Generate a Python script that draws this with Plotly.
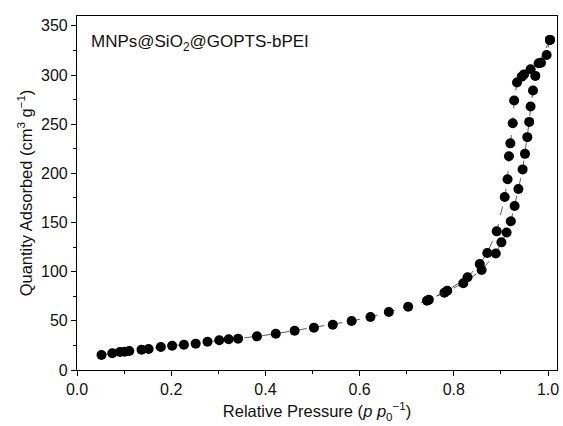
import plotly.graph_objects as go

# Adsorption branch (relative pressure, quantity adsorbed)
ads_p = [0.052, 0.075, 0.091, 0.101, 0.111, 0.137, 0.152, 0.178, 0.202, 0.227,
         0.252, 0.277, 0.302, 0.322, 0.342, 0.382, 0.422, 0.462, 0.503, 0.543,
         0.583, 0.623, 0.662, 0.703, 0.743, 0.780, 0.820, 0.859, 0.889, 0.901,
         0.912, 0.921, 0.929, 0.937, 0.946, 0.951, 0.956, 0.960, 0.963, 0.968,
         0.973, 0.985, 0.997, 1.004]
ads_q = [15.3, 17.0, 18.3, 18.6, 19.3, 20.7, 21.4, 23.4, 24.7, 25.7,
         26.8, 28.8, 30.2, 31.2, 31.9, 34.2, 36.9, 40.0, 43.0, 46.0,
         49.8, 53.9, 59.0, 64.4, 70.5, 78.6, 88.2, 101.7, 118.5, 129.8,
         139.8, 151.2, 166.8, 184.0, 204.0, 219.8, 236.8, 252.3, 268.0, 284.2,
         299.1, 312.4, 320.4, 335.7]

# Desorption branch
des_p = [1.004, 0.980, 0.963, 0.949, 0.944, 0.934, 0.928, 0.925, 0.920, 0.917,
         0.914, 0.908, 0.891, 0.871, 0.855, 0.829, 0.786, 0.747]
des_q = [335.7, 312.0, 305.8, 300.6, 298.2, 292.3, 274.0, 251.0, 230.5, 217.3,
         194.0, 176.0, 141.0, 119.0, 107.8, 94.3, 80.7, 71.5]

x_ticks = [0.0, 0.2, 0.4, 0.6, 0.8, 1.0]
y_ticks = [0, 50, 100, 150, 200, 250, 300, 350]

FONT = "Liberation Sans, Arial, sans-serif"

fig = go.Figure()
for px_, qy in ((ads_p, ads_q), (des_p, des_q)):
    fig.add_trace(go.Scatter(
        x=px_, y=qy, mode="lines+markers",
        line=dict(color="#333333", width=0.8, dash="dash"),
        marker=dict(color="black", size=10, line=dict(width=0)),
        showlegend=False,
    ))

axis_common = dict(
    showgrid=False, zeroline=False, showline=True, linecolor="black",
    linewidth=1.2, mirror=True, ticks="outside", ticklen=5, tickwidth=1.2,
    tickcolor="black", tickfont=dict(family=FONT, size=16, color="#111111"),
)

fig.update_xaxes(
    range=[0, 1.019], tickvals=x_ticks, ticktext=[f"{v:.1f}" for v in x_ticks],
    minor=dict(ticks="outside", ticklen=3, tickwidth=1, tickcolor="black", dtick=0.1),
    title=dict(text="Relative Pressure (<i>p</i> <i>p</i><sub>0</sub><sup>\u22121</sup>)",
               font=dict(family=FONT, size=16.5, color="#111111"), standoff=8),
    **axis_common,
)
fig.update_yaxes(
    range=[0, 360], tickvals=y_ticks,
    minor=dict(ticks="outside", ticklen=3, tickwidth=1, tickcolor="black", dtick=25),
    title=dict(text="Quantity Adsorbed (cm<sup>3</sup> g<sup>\u22121</sup>)",
               font=dict(family=FONT, size=16.5, color="#111111"), standoff=4),
    **axis_common,
)

fig.add_annotation(
    xref="paper", yref="paper", x=0.025, y=0.925, xanchor="left", yanchor="middle",
    text="MNPs@SiO<sub>2</sub>@GOPTS-bPEI", showarrow=False,
    font=dict(family=FONT, size=17, color="#111111"),
)

fig.update_layout(
    width=563, height=426,
    margin=dict(l=77, r=4, t=16, b=56),
    plot_bgcolor="white", paper_bgcolor="white",
)

fig.write_html("out.html")
